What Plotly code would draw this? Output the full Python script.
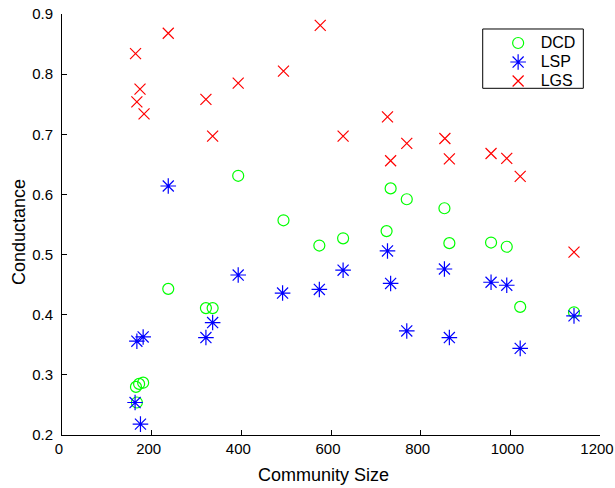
import plotly.graph_objects as go

# DCD (green circles)
dcd_x = [165, 167, 172, 181, 237, 321, 336, 393, 494, 574, 627, 724, 733, 769, 853, 864, 957, 992, 1022, 1142]
dcd_y = [0.280, 0.254, 0.285, 0.287, 0.443, 0.411, 0.411, 0.631, 0.557, 0.515, 0.527, 0.539, 0.610, 0.592, 0.577, 0.519, 0.520, 0.513, 0.413, 0.404]

# LSP (blue asterisks)
lsp_x = [163, 167, 175, 181, 237, 321, 336, 393, 492, 574, 627, 726, 733, 769, 853, 864, 957, 992, 1022, 1142]
lsp_y = [0.254, 0.356, 0.218, 0.363, 0.614, 0.362, 0.387, 0.466, 0.436, 0.442, 0.474, 0.506, 0.452, 0.373, 0.476, 0.362, 0.454, 0.449, 0.344, 0.398]

# LGS (red crosses)
lgs_x = [164, 167, 174, 183, 237, 321, 336, 393, 494, 576, 627, 726, 733, 769, 854, 864, 957, 992, 1022, 1142]
lgs_y = [0.834, 0.754, 0.775, 0.734, 0.868, 0.758, 0.697, 0.785, 0.805, 0.881, 0.697, 0.729, 0.656, 0.685, 0.693, 0.659, 0.668, 0.660, 0.630, 0.504]

series_names = ["DCD", "LSP", "LGS"]

x_ticks = [0, 200, 400, 600, 800, 1000, 1200]
y_ticks = [0.2, 0.3, 0.4, 0.5, 0.6, 0.7, 0.8, 0.9]

FONT = "Liberation Sans, Arial, sans-serif"


def legend_name(s):
    return f"<span style='font-size:16px'>{s}</span>"


fig = go.Figure()
fig.add_trace(go.Scatter(x=dcd_x, y=dcd_y, mode="markers", name=legend_name(series_names[0]),
                         marker=dict(symbol="circle-open", size=11, color="#00ff00",
                                     line=dict(width=1.2, color="#00ff00"))))
fig.add_trace(go.Scatter(x=lsp_x, y=lsp_y, mode="markers", name=legend_name(series_names[1]),
                         marker=dict(symbol="asterisk-open", size=13, color="#0000ff",
                                     line=dict(width=1.2, color="#0000ff"))))
fig.add_trace(go.Scatter(x=lgs_x, y=lgs_y, mode="markers", name=legend_name(series_names[2]),
                         marker=dict(symbol="x-thin-open", size=11, color="#ff0000",
                                     line=dict(width=1.2, color="#ff0000"))))

fig.update_layout(
    width=615, height=488,
    margin=dict(l=62, r=15, t=14, b=53, autoexpand=False),
    paper_bgcolor="white", plot_bgcolor="white",
    font=dict(family=FONT, size=15, color="black"),
    showlegend=True,
    legend=dict(x=0.806, y=0.9655, xanchor="left", yanchor="top",
                borderwidth=0, bgcolor="rgba(0,0,0,0)",
                font=dict(size=12), itemwidth=35, tracegroupgap=0),
    shapes=[dict(type="rect", xref="paper", yref="paper",
                 x0=0.782, x1=0.969, y0=0.8235, y1=0.9644,
                 line=dict(color="black", width=1), fillcolor="white", layer="below")],
)
fig.update_xaxes(range=[0, 1200], tickvals=x_ticks, ticktext=[str(v) for v in x_ticks],
                 ticks="inside", ticklen=5, tickcolor="black", showline=True,
                 linecolor="black", linewidth=1, showgrid=False, zeroline=False,
                 ticklabeloverflow="allow", automargin=False, ticklabelshift=-3,
                 title=dict(text="Community Size&nbsp;&nbsp;&nbsp;", font=dict(size=18), standoff=12))
fig.update_yaxes(range=[0.2, 0.9], tickvals=y_ticks, ticktext=[f"{v:.1f}" for v in y_ticks],
                 ticks="inside", ticklen=5, tickcolor="black", showline=True,
                 linecolor="black", linewidth=1, showgrid=False, zeroline=False,
                 ticklabeloverflow="allow", automargin=False, ticklabelstandoff=5,
                 title=dict(text="Conductance&nbsp;&nbsp;&nbsp;", font=dict(size=18), standoff=1))

fig.write_html("out.html")
